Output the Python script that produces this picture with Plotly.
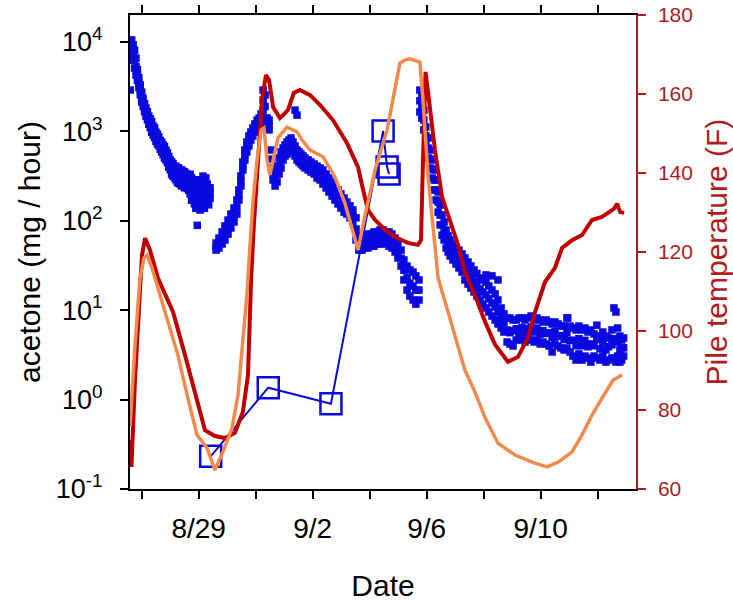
import pandas as pd
import plotly.graph_objects as go

BASE = pd.Timestamp("2013-08-27")

# ---------------- data (x in days since 8/27 00:00) ----------------
cloud_days = [
    -0.40, -0.35, -0.30, -0.25, -0.20, -0.15, -0.10, -0.05, 0.00, 0.05, 0.10, 0.15, 0.20, 0.25, 0.30,
    0.35, 0.40, 0.45, 0.50, 0.55, 0.60, 0.65, 0.70, 0.75, 0.80, 0.85, 0.90, 0.95, 1.00, 1.05, 1.10,
    1.15, 1.20, 1.25, 1.30, 1.35, 1.40, 1.45, 1.50, 1.55, 1.60, 1.65, 1.70, 1.75, 1.80, 1.85, 1.90,
    1.95, 2.00, 2.05, 2.10, 2.15, 2.20, 2.25, 2.30, 2.35, 2.40,
    2.61, 2.71, 2.82, 2.92, 3.03, 3.13, 3.24, 3.34, 3.41,
    3.48, 3.55, 3.62, 3.69, 3.76, 3.83, 3.90, 3.97, 4.05, 4.12, 4.19, 4.26, 4.33, 4.40, 4.47,
    4.54, 4.61, 4.68, 4.75, 4.82, 4.89, 4.96, 5.03, 5.10, 5.17, 5.24, 5.31, 5.38, 5.45, 5.52, 5.59, 5.66, 5.73,
    5.84, 5.94, 6.05, 6.15, 6.26, 6.36, 6.47, 6.57, 6.68, 6.78, 6.89, 6.99, 7.10, 7.20, 7.31, 7.41,
    7.52, 7.62, 7.73, 7.83, 7.94, 8.04, 8.15, 8.25, 8.36, 8.47, 8.57, 8.68, 8.78, 8.89, 8.99, 9.10,
    9.20, 9.31, 9.41, 9.52, 9.62, 9.73,
    9.76, 9.83, 9.90, 9.97, 10.05, 10.12, 10.19, 10.26, 10.33, 10.40, 10.47, 10.54, 10.61, 10.68, 10.75, 10.82,
    10.92, 11.03, 11.13, 11.24, 11.34, 11.45, 11.55, 11.66, 11.76, 11.87, 11.97, 12.08, 12.18, 12.29, 12.40,
    12.50, 12.61, 12.71,
    12.82, 12.92, 13.03, 13.14, 13.24, 13.35, 13.45, 13.56, 13.66, 13.77, 13.87, 13.98, 14.08, 14.19, 14.29,
    14.40, 14.50, 14.61, 14.71,
    14.82, 14.92, 15.03, 15.13, 15.24, 15.34, 15.45, 15.55, 15.66, 15.76, 15.87, 15.97, 16.08, 16.18, 16.29,
    16.38, 16.50, 16.57, 16.64, 16.70, 16.78, 16.84, 16.91,
]
cloud_upper = [
    10500, 10500, 9300, 8100, 6600, 4900, 3980, 3310, 2750, 2340, 2040, 1820, 1660, 1480, 1380,
    1290, 1150, 1100, 980, 933, 871, 794, 759, 708, 676, 617, 575, 525, 479, 457, 437,
    407, 407, 389, 389, 372, 372, 355, 355, 339, 331, 316, 331, 302, 269, 288, 245,
    219, 257, 209, 288, 316, 245, 302, 257, 219, 234,
    56.5, 64, 75, 87.5, 102, 119, 139, 171, 221,
    317, 455, 619, 761, 889, 984, 1090, 1210, 1340, 1410, 1570, 2900, 2550, 1410, 1340,
    619, 390, 351, 410, 504, 589, 652, 705, 761, 801, 844, 761, 687, 619, 589, 558, 531, 504,
    479, 455, 432, 410, 390, 370, 334, 301, 272, 245, 221, 200, 180, 162, 147, 132,
    108, 68, 64, 68, 71, 71, 75, 75, 79, 79, 75, 75, 71, 64, 55, 47,
    36.5, 31.2, 28.2, 26.7, 24.2, 21.8,
    2900, 2550, 1730, 1120, 844, 619, 479, 370, 286, 210, 150, 116, 97, 79, 68, 61,
    55, 49.6, 47, 42.6, 38.4, 34.6, 31.2, 28.2, 25.7, 22.9, 21.8, 20.7, 18.7, 16.8, 15.2,
    13.0, 10.6, 9.1,
    8.18, 8.18, 7.77, 7.77, 8.18, 8.18, 7.77, 8.18, 8.61, 7.77, 8.18, 7.77, 7.38, 7.77, 7.38,
    7.01, 7.38, 7.01, 6.65,
    6.65, 8.18, 6.65, 6.32, 6.01, 6.65, 6.01, 6.32, 5.70, 6.01, 5.42, 6.8, 5.14, 5.70, 5.14,
    4.89, 6.01, 10.6, 9.55, 6.32, 5.14, 4.64, 4.89,
]
cloud_mid = [
    6300, 8600, 7600, 6400, 5300, 4270, 3500, 2920, 2420, 2110, 1840, 1640, 1500, 1330, 1230,
    1120, 1020, 970, 870, 820, 780, 710, 670, 625, 580, 545, 505, 455, 420, 390, 370,
    350, 340, 325, 320, 310, 300, 300, 290, 290, 275, 265, 255, 225, 225, 210, 185,
    140, 210, 165, 210, 245, 185, 225, 220, 180, 205,
    51, 56, 64, 73, 85, 100, 116, 143, 195,
    280, 410, 545, 670, 780, 890, 984, 1090, 1210, 1270, 1410, 2240, 1900, 1240, 1180,
    490, 334, 290, 334, 410, 479, 558, 619, 652, 687, 724, 670, 600, 545, 520, 490, 467, 445,
    420, 400, 380, 351, 334, 309, 279, 251, 228, 205, 185, 166, 150, 139, 126, 113,
    81, 56, 55, 58, 59, 61, 62, 64, 66, 68, 64, 62, 59, 54, 46, 38,
    28, 23, 20, 18.6, 16.8, 16.8,
    2200, 1900, 1340, 890, 650, 490, 380, 286, 221, 162, 116, 90, 77, 63, 55, 50,
    45, 40, 37.5, 33.7, 29, 26, 23.5, 21.2, 19.2, 17.3, 16, 14.8, 13.4, 12, 10.9,
    9.5, 8.2, 7.2,
    6.0, 5.6, 5.9, 6.2, 5.8, 6.4, 5.6, 6.2, 6.5, 5.7, 6.3, 5.4, 5.9, 5.5, 5.6,
    4.9, 5.8, 5.1, 5.2,
    4.7, 5.6, 4.6, 4.6, 4.0, 4.8, 4.0, 4.6, 3.9, 4.2, 4.0, 4.7, 3.7, 4.4, 3.6,
    3.9, 4.1, 4.8, 4.4, 4.6, 3.6, 3.8, 3.8,
]
cloud_lower = [
    2900, 7100, 6300, 5100, 4270, 3720, 3090, 2570, 2140, 1910, 1660, 1480, 1350, 1200, 1100,
    980, 912, 851, 776, 724, 692, 631, 589, 550, 501, 479, 447, 398, 372, 331, 316,
    302, 288, 269, 263, 257, 245, 251, 234, 245, 229, 219, 200, 170, 191, 155, 138,
    89, 170, 132, 155, 191, 138, 170, 191, 151, 178,
    47, 49.6, 55, 61, 71, 83, 97, 119, 171,
    245, 370, 479, 589, 687, 801, 889, 984, 1090, 1150, 1270, 1730, 1410, 1090, 1040,
    390, 286, 245, 272, 334, 390, 479, 531, 558, 589, 619, 589, 531, 479, 455, 432, 410, 390,
    370, 351, 334, 301, 286, 258, 233, 210, 189, 171, 154, 139, 125, 119, 108, 97,
    61, 47, 47, 49.6, 49.6, 52, 52, 55, 55, 58, 55, 52, 49.6, 44.8, 38.4, 31.2,
    21.8, 16.8, 14.4, 13.0, 11.7, 13.0,
    1650, 1410, 1040, 705, 504, 390, 301, 221, 171, 125, 90, 69, 61, 49.6, 44.8, 40.4,
    36.5, 32.9, 29.7, 26.7, 21.8, 19.6, 17.7, 16.0, 14.4, 13.0, 11.7, 10.6, 9.55, 8.61, 7.77,
    7.01, 6.32, 5.70,
    4.41, 4.19, 3.98, 4.64, 4.89, 4.64, 4.41, 4.89, 4.64, 4.41, 4.64, 4.19, 4.41, 4.19, 3.98,
    3.41, 4.19, 3.98, 3.78,
    3.59, 3.78, 3.41, 3.07, 2.77, 3.24, 2.77, 3.07, 2.92, 2.63, 3.07, 2.92, 2.77, 3.07, 2.63,
    2.77, 2.92, 2.9, 2.63, 3.07, 2.63, 2.77, 3.07,
]
outlier_days = [5.38, 5.45, 12.08, 12.29, 12.50, 14.95]
outlier_vals = [1730, 1520, 24.8, 24.2, 21.8, 8.2]

grab_days = [2.42, 4.44, 6.64, 8.47, 8.61, 8.68]
grab_vals = [0.232, 1.36, 0.90, 1010, 400, 333]

red_days = [
    -0.41, -0.36, -0.235, -0.095, 0.01, 0.116, 0.29, 0.57, 0.82, 1.10,
    1.52, 1.94, 2.22, 2.57, 2.92, 3.27, 3.55, 3.73, 3.84, 3.94,
    4.08, 4.22, 4.36, 4.47, 4.61, 4.85, 5.13, 5.34, 5.55, 5.91,
    6.26, 6.71, 7.20, 7.59, 7.77, 7.94, 8.19, 8.54, 8.89, 9.34,
    9.69, 9.80, 9.87, 9.96, 10.05, 10.29, 10.54, 10.89, 11.10, 11.34,
    11.69, 12.05, 12.40, 12.85, 13.20, 13.55, 13.80, 14.15, 14.50, 14.75,
    15.10, 15.45, 15.80, 16.15, 16.36, 16.57, 16.68, 16.79, 16.93,
]
red_temp = [
    72.4, 65.6, 87.6, 107.8, 119.2, 123.5, 120.5, 113.4, 109.1, 104.8,
    93.9, 83.0, 74.9, 73.4, 72.9, 74.2, 79.5, 88.9, 113.4, 127.3,
    143.3, 158.5, 164.8, 163.5, 156.7, 153.9, 155.9, 160.3, 161.0, 159.7,
    157.2, 153.4, 147.6, 141.5, 135.7, 130.6, 128.1, 125.6, 123.8, 122.3,
    121.8, 123.0, 143.3, 165.6, 160.3, 145.8, 133.9, 126.3, 121.8, 114.9,
    109.1, 102.3, 96.5, 92.2, 93.4, 98.2, 104.8, 112.4, 116.0, 121.0,
    123.0, 124.3, 128.1, 128.9, 129.9, 130.9, 132.2, 130.1, 129.9,
]
orange_days = [
    -0.41, -0.235, -0.06, 0.08, 0.19, 0.36, 0.57, 0.92, 1.27, 1.62,
    1.94, 2.29, 2.57, 2.85, 3.17, 3.38, 3.55, 3.69, 3.80, 3.91,
    4.05, 4.19, 4.29, 4.40, 4.50, 4.64, 4.78, 5.10, 5.45, 5.62,
    5.91, 6.36, 6.78, 7.13, 7.41, 7.59, 7.84, 8.19, 8.61, 8.96,
    9.06, 9.24, 9.41, 9.76, 9.87, 10.05, 10.29, 10.40, 10.75, 11.10,
    11.34, 11.69, 12.05, 12.50, 13.10, 13.70, 14.22, 14.61, 15.10, 15.45,
    15.80, 16.15, 16.54, 16.86,
]
orange_temp = [
    75.7, 96.5, 113.4, 118.5, 119.2, 116.0, 110.9, 102.3, 93.9, 83.0,
    73.7, 70.4, 64.8, 69.4, 75.4, 83.8, 96.5, 109.1, 121.8, 133.2,
    143.3, 150.9, 151.4, 143.3, 139.5, 144.6, 148.9, 151.6, 150.4, 148.4,
    145.8, 144.1, 139.0, 132.4, 124.8, 120.5, 129.4, 140.8, 150.9, 163.5,
    167.8, 168.6, 168.9, 168.1, 158.5, 139.0, 120.5, 113.4, 104.8, 96.5,
    90.1, 84.6, 78.0, 71.6, 68.6, 66.8, 65.6, 66.8, 69.4, 73.7,
    78.7, 83.0, 87.6, 88.9,
]

x_tickvals = ["2013-08-29", "2013-09-02", "2013-09-06", "2013-09-10"]
x_ticktext = ["8/29", "9/2", "9/6", "9/10"]
x_minor_tickvals = ["2013-08-27", "2013-08-31", "2013-09-04", "2013-09-08", "2013-09-12"]
y_tickvals = [0.1, 1, 10, 100, 1000, 10000]
y_ticktext = ["10<sup>-1</sup>", "10<sup>0</sup>", "10<sup>1</sup>", "10<sup>2</sup>",
              "10<sup>3</sup>", "10<sup>4</sup>"]
t_tickvals = [60, 80, 100, 120, 140, 160, 180]
x_range_days = [-0.4105, 17.344]


def to_dates(days):
    return [BASE + pd.Timedelta(days=d) for d in days]


FONT = "Liberation Sans, Arial, sans-serif"
BLUE = "#0a0ae0"
DRED = "#c00000"
AXRED = "#b01c1c"
ORANGE = "#f28a4e"

fig = go.Figure()
fig.add_trace(go.Scatter(
    x=to_dates(cloud_days + cloud_days + cloud_days + outlier_days),
    y=cloud_upper + cloud_mid + cloud_lower + outlier_vals,
    mode="markers", marker=dict(symbol="square", size=7.5, color=BLUE, line=dict(width=0)),
    showlegend=False, xaxis="x", yaxis="y"))
fig.add_trace(go.Scatter(
    x=to_dates(grab_days), y=grab_vals, mode="lines+markers",
    line=dict(color=BLUE, width=2),
    marker=dict(symbol="square-open", size=21, color=BLUE, line=dict(width=2.5, color=BLUE)),
    showlegend=False, xaxis="x", yaxis="y"))
fig.add_trace(go.Scatter(
    x=to_dates(red_days), y=red_temp, mode="lines", line=dict(color=DRED, width=4),
    showlegend=False, xaxis="x", yaxis="y2"))
fig.add_trace(go.Scatter(
    x=to_dates(orange_days), y=orange_temp, mode="lines", line=dict(color=ORANGE, width=3.5),
    showlegend=False, xaxis="x", yaxis="y2"))

xr = to_dates(x_range_days)
tick_style = dict(ticklen=8, tickwidth=2, tickcolor="black")
common_x = dict(type="date", range=xr, tickmode="array", tickvals=x_tickvals, showgrid=False,
                zeroline=False, automargin=False, **tick_style)
fig.update_layout(
    width=733, height=603,
    margin=dict(l=130, r=97, t=15, b=114, autoexpand=False),
    paper_bgcolor="white", plot_bgcolor="white",
    font=dict(family=FONT, color="black"),
    xaxis=dict(**common_x, ticktext=x_ticktext, ticks="outside", mirror="allticks",
               minor=dict(tickmode="array", tickvals=x_minor_tickvals, ticks="outside",
                          showgrid=False, **tick_style),
               showline=True, linecolor="black", linewidth=2,
               tickfont=dict(size=28, family=FONT, color="black"), ticklabelstandoff=5,
               title=dict(text="Date", font=dict(size=30, family=FONT, color="black"), standoff=32)),
    xaxis2=dict(**common_x, overlaying="x", anchor="y", ticks="inside", mirror="allticks",
                minor=dict(tickmode="array", tickvals=x_minor_tickvals, ticks="inside",
                           showgrid=False, **tick_style),
                showline=True, linecolor="black", linewidth=2, showticklabels=False),
    yaxis=dict(type="log", range=[-1, 4.302], tickmode="array", tickvals=y_tickvals,
               ticktext=y_ticktext, automargin=False,
               ticks="outside", **tick_style,
               showline=True, linecolor="black", linewidth=2, showgrid=False, zeroline=False,
               tickfont=dict(size=27, family=FONT, color="black"), ticklabelstandoff=12,
               title=dict(text="acetone (mg / hour)", font=dict(size=30, family=FONT, color="black"),
                          standoff=6)),
    yaxis3=dict(type="log", range=[-1, 4.302], tickmode="array", tickvals=y_tickvals,
                overlaying="y", side="left", automargin=False,
                anchor="x", ticks="inside", **tick_style,
                showline=False, showgrid=False, zeroline=False, showticklabels=False),
    yaxis2=dict(range=[60, 180], tickmode="array", tickvals=t_tickvals, overlaying="y",
                side="right", anchor="x", automargin=False,
                ticks="outside", ticklen=8, tickwidth=1.5, tickcolor=AXRED,
                showline=True, linecolor=AXRED, linewidth=1.5, showgrid=False, zeroline=False,
                tickfont=dict(size=21, family=FONT, color=AXRED), ticklabelstandoff=8,
                title=dict(text="Pile temperature (F)", font=dict(size=30, family=FONT, color=AXRED),
                           standoff=14)),
    yaxis4=dict(range=[60, 180], tickmode="array", tickvals=t_tickvals, overlaying="y",
                side="right", anchor="x", automargin=False,
                ticks="inside", ticklen=8, tickwidth=1.5, tickcolor=AXRED,
                showline=False, showgrid=False, zeroline=False, showticklabels=False),
)

fig.write_html("out.html")
